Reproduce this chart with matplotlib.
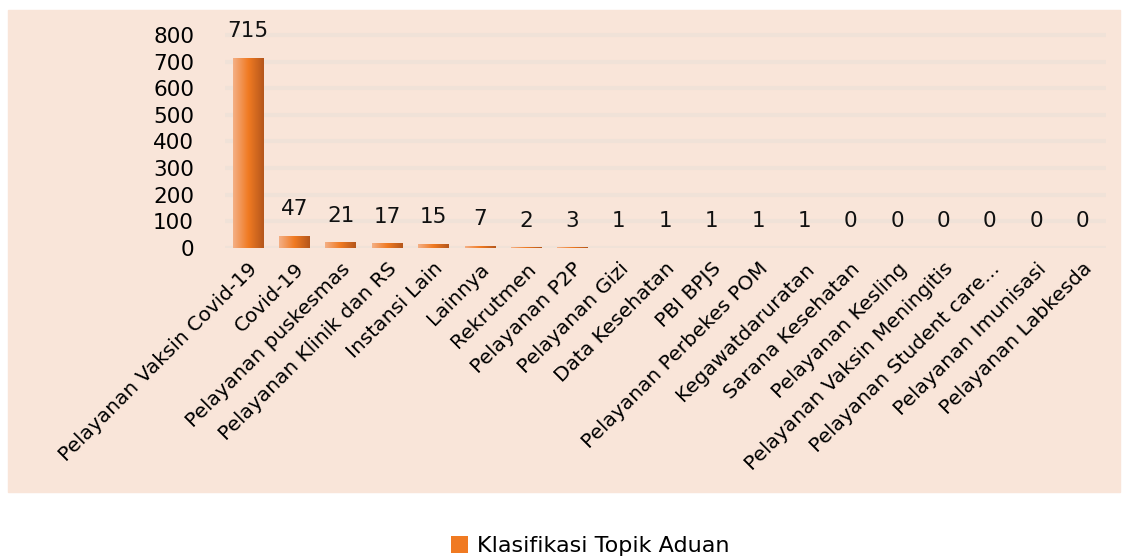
import matplotlib.pyplot as plt
import matplotlib.patches as mpatches
import numpy as np
from matplotlib.colors import LinearSegmentedColormap

plt.rcParams['font.family'] = ['DejaVu Sans']

categories = ['Pelayanan Vaksin Covid-19', 'Covid-19', 'Pelayanan puskesmas',
              'Pelayanan Klinik dan RS', 'Instansi Lain', 'Lainnya', 'Rekrutmen',
              'Pelayanan P2P', 'Pelayanan Gizi', 'Data Kesehatan', 'PBI BPJS',
              'Pelayanan Perbekes POM', 'Kegawatdaruratan', 'Sarana Kesehatan',
              'Pelayanan Kesling', 'Pelayanan Vaksin Meningitis',
              'Pelayanan Student care...', 'Pelayanan Imunisasi', 'Pelayanan Labkesda']
values = [715, 47, 21, 17, 15, 7, 2, 3, 1, 1, 1, 1, 1, 0, 0, 0, 0, 0, 0]
yticks = [0, 100, 200, 300, 400, 500, 600, 700, 800]
series_name = 'Klasifikasi Topik Aduan'

fig = plt.figure(figsize=(11.46, 5.59), dpi=100)
fig.patches.append(mpatches.Rectangle((8 / 1146, 1 - 492 / 559), 1112 / 1146, 482 / 559,
                                      transform=fig.transFigure, color='#F9E5D9', zorder=-5))
ax = fig.add_axes([0.196, 0.5563, 0.769, 0.417])
ax.set_facecolor('none')

x = np.arange(len(categories))
bars = ax.bar(x, values, width=0.65, color='#EE7A25', zorder=2)

# horizontal gradient for each bar: light -> orange -> dark
cmap = LinearSegmentedColormap.from_list('bar', ['#F4B086', '#F07A22', '#B4561C'])
grad = np.linspace(0, 1, 256).reshape(1, -1)
for b in bars:
    if b.get_height() <= 0:
        continue
    im = ax.imshow(grad, cmap=cmap, aspect='auto', zorder=3,
                   extent=[b.get_x(), b.get_x() + b.get_width(), 0, b.get_height()])
    im.set_clip_path(b)

for xi, v in zip(x, values):
    ax.annotate(str(v), (xi, v), xytext=(0, 12), textcoords='offset points',
                ha='center', va='bottom', fontsize=15.5, color='#111111')

ax.set_xlim(-0.5, len(categories) - 0.5)
ax.set_ylim(0, 875)
ax.set_yticks(yticks)
ax.set_yticklabels([str(t) for t in yticks], fontsize=15.5)
ax.set_xticks(x)
ax.set_xticklabels(categories, rotation=45, ha='right', va='top',
                   rotation_mode='anchor', fontsize=14.5)
ax.tick_params(length=0, pad=8)
ax.tick_params(axis='y', pad=22)
for s in ax.spines.values():
    s.set_visible(False)
ax.set_axisbelow(True)
ax.yaxis.grid(True, color='#F0E2D8', linewidth=3)

handle = mpatches.Patch(facecolor='#F07A22', label=series_name)
fig.legend(handles=[handle], loc='lower center', bbox_to_anchor=(0.515, -0.03),
           frameon=False, fontsize=16, handlelength=0.8, handleheight=0.8,
           handletextpad=0.4)

fig.savefig('out.png', dpi=100)
